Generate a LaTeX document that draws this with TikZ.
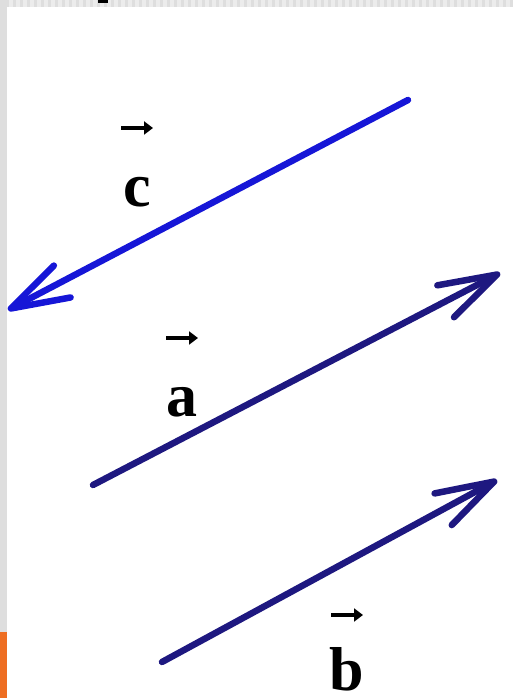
\documentclass[tikz,border=0pt]{standalone}
\usepackage{fontspec}
\setmainfont{Liberation Serif}
\usepackage{tikz}
\usetikzlibrary{arrows.meta}

\definecolor{vblue}{RGB}{22,22,215}
\definecolor{vnavy}{RGB}{30,24,128}
\definecolor{bandgray}{RGB}{222,222,222}
\definecolor{stripegray}{RGB}{236,236,236}
\definecolor{slideorange}{RGB}{238,110,34}

\tikzset{
    vecline/.style={line width=6.5pt, line cap=round,
        -{Straight Barb[length=58pt,width=36pt,round]}},
    vecmark/.style={line width=4.5pt, -{Triangle[length=9pt,width=13pt]}},
    veclabel/.style={font=\fontsize{62}{62}\selectfont\bfseries, anchor=base, inner sep=0pt}
}

\begin{document}
\begin{tikzpicture}[x=1pt, y=1pt]
    \useasboundingbox (0,0) rectangle (513,698);
    \fill[white] (0,0) rectangle (513,698);
    % slide frame
    \fill[bandgray] (7,691) rectangle (513,698);
    \foreach \i in {0,...,72}
        \fill[stripegray] (9+7*\i,691) rectangle ++(3.5,7);
    \fill[bandgray] (0,66) rectangle (7,698);
    \fill[slideorange] (0,0) rectangle (7,66);
    \fill[black] (98,695) rectangle (108,698);

    % vectors
    \coordinate (ctail) at (408,598);
    \coordinate (chead) at (8,388);
    \coordinate (atail) at (93,213);
    \coordinate (ahead) at (500,425);
    \coordinate (btail) at (162,36);
    \coordinate (bhead) at (497,218);
    \draw[vecline, vblue] (ctail) -- (chead);
    \draw[vecline, vnavy] (atail) -- (ahead);
    \draw[vecline, vnavy] (btail) -- (bhead);

    % labels
    \node[veclabel] (c) at (137,491) {c};
    \node[veclabel] (a) at (182,281) {a};
    \node[veclabel] (b) at (347,8) {b};
    \draw[vecmark] ([xshift=-16pt]c.base) ++(0,79) -- ++(32,0);
    \draw[vecmark] ([xshift=-16pt]a.base) ++(0,79) -- ++(32,0);
    \draw[vecmark] ([xshift=-16pt]b.base) ++(0,75) -- ++(32,0);
\end{tikzpicture}
\end{document}
